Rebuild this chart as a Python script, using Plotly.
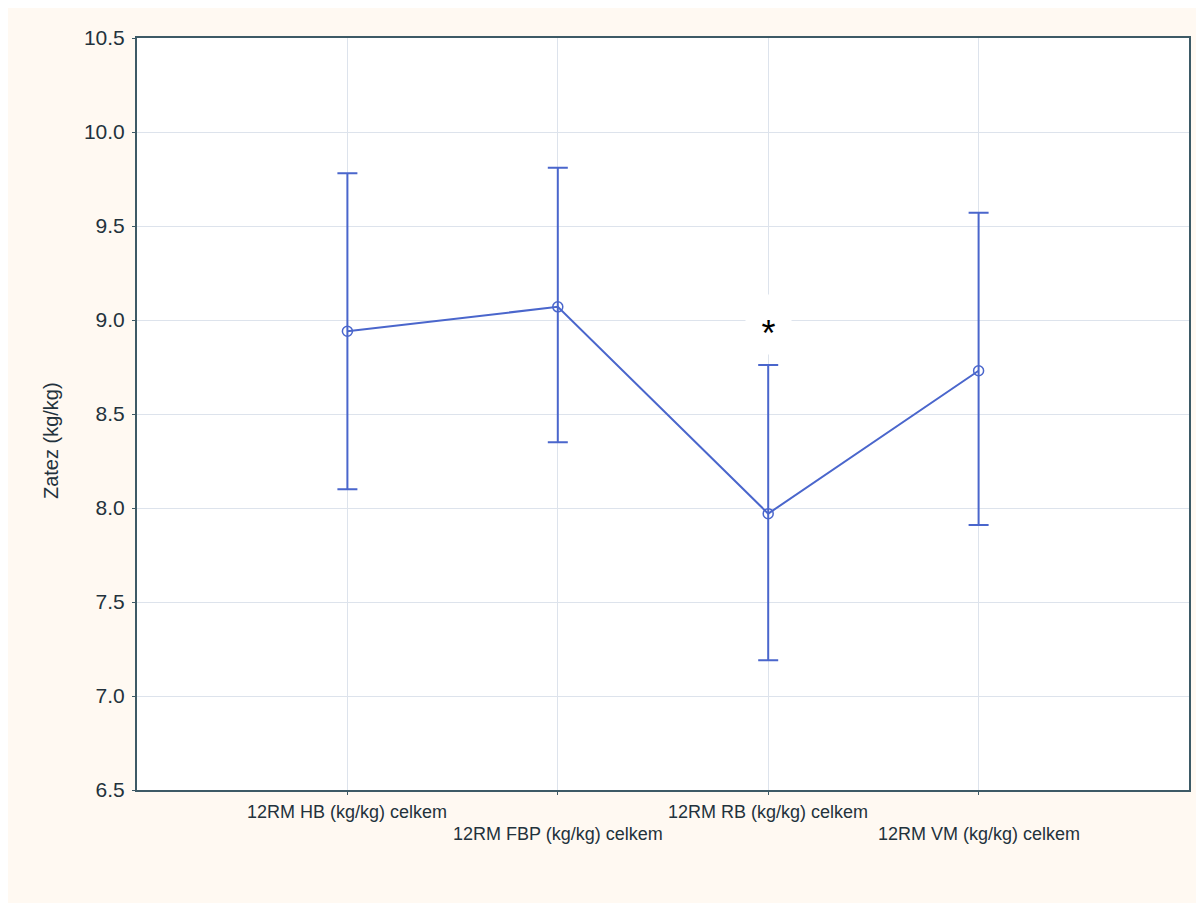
import plotly.graph_objects as go

categories = ["12RM HB (kg/kg) celkem", "12RM FBP (kg/kg) celkem",
              "12RM RB (kg/kg) celkem", "12RM VM (kg/kg) celkem"]
means = [8.94, 9.07, 7.97, 8.73]
upper = [9.78, 9.81, 8.76, 9.57]
lower = [8.10, 8.35, 7.19, 7.91]
y_ticks = [6.5, 7.0, 7.5, 8.0, 8.5, 9.0, 9.5, 10.0, 10.5]
label_offsets = [-22, -44, -22, -44]
star_category = 3
star_value = 8.975

xpos = list(range(1, len(categories) + 1))
err_plus = [u - m for u, m in zip(upper, means)]
err_minus = [m - l for m, l in zip(means, lower)]

LINE = "#4a66cc"
CREAM = "#fff9f2"
TEXT = "#23323c"
FONT = "Arial, Liberation Sans, sans-serif"

fig = go.Figure()
fig.add_trace(go.Scatter(
    x=xpos, y=means, mode="lines+markers",
    line=dict(color=LINE, width=2),
    marker=dict(symbol="circle-open", size=10, color=LINE, line=dict(width=1.5)),
    error_y=dict(type="data", symmetric=False, array=err_plus, arrayminus=err_minus,
                 color=LINE, thickness=2, width=10),
    showlegend=False,
))

annotations = []
for x, lab, off in zip(xpos, categories, label_offsets):
    annotations.append(dict(x=x, y=0, xref="x", yref="paper", text=lab,
                            showarrow=False, yanchor="middle", yshift=off,
                            font=dict(family=FONT, size=18, color=TEXT)))
annotations.append(dict(x=star_category, y=star_value, xref="x", yref="y", text="*",
                        showarrow=False, bgcolor="white", borderpad=0,
                        width=45, height=59, valign="bottom", align="center",
                        font=dict(family=FONT, size=36, color="black")))
annotations.append(dict(x=0, y=0.464, xref="paper", yref="paper", text="Zatez (kg/kg)",
                        showarrow=False, textangle=-90, xanchor="center", yanchor="middle",
                        xshift=-86, font=dict(family=FONT, size=20, color=TEXT)))

fig.update_layout(
    width=1204, height=903,
    margin=dict(l=129, r=23, t=30, b=121),
    paper_bgcolor=CREAM, plot_bgcolor="white",
    annotations=annotations,
)
fig.update_xaxes(range=[0, 5], tickvals=xpos, ticktext=[""] * len(xpos),
                 showgrid=True, gridcolor="#dde3ec", gridwidth=1,
                 showline=True, linecolor="#3d5a66", linewidth=2, mirror=True,
                 ticks="outside", ticklen=3, tickcolor="#3d5a66", zeroline=False)
fig.update_yaxes(range=[6.5, 10.5], tickvals=y_ticks, ticktext=[f"{v:.1f}" for v in y_ticks],
                 showgrid=True, gridcolor="#dde3ec", gridwidth=1,
                 showline=True, linecolor="#3d5a66", linewidth=2, mirror=True,
                 ticks="outside", ticklen=3, tickcolor="#3d5a66", zeroline=False,
                 ticklabelstandoff=3,
                 tickfont=dict(family=FONT, size=21, color=TEXT))

fig.write_html("out.html")
